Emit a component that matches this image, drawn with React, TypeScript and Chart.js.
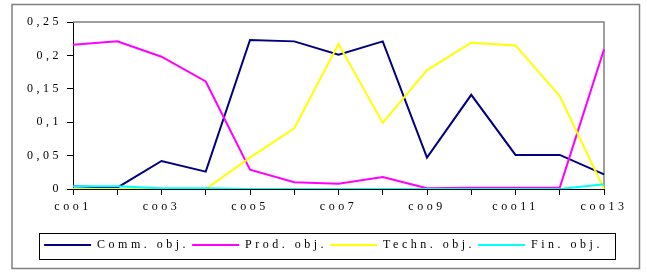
import { useEffect, useRef } from "react";
import { Chart, registerables } from "chart.js";

Chart.register(...registerables);

const categories = [
  "coo1", "coo2", "coo3", "coo4", "coo5", "coo6", "coo7",
  "coo8", "coo9", "coo10", "coo11", "coo12", "coo13",
];
const commObj = [0.004, 0.002, 0.042, 0.026, 0.223, 0.221, 0.201, 0.221, 0.047, 0.141, 0.051, 0.051, 0.022];
const prodObj = [0.216, 0.221, 0.198, 0.161, 0.029, 0.010, 0.008, 0.018, 0.001, 0.002, 0.002, 0.002, 0.209];
const technObj = [0.0, 0.0, 0.0, 0.0, 0.047, 0.091, 0.217, 0.099, 0.178, 0.219, 0.215, 0.139, 0.0];
const finObj = [0.004, 0.004, 0.001, 0.001, 0.0, 0.0, 0.0, 0.0, 0.0, 0.0, 0.0, 0.0, 0.007];
const seriesNames = ["Comm. obj.", "Prod. obj.", "Techn. obj.", "Fin. obj."];
const seriesColors = ["#000080", "#FF00FF", "#FFFF00", "#00FFFF"];
const yMin = 0;
const yMax = 0.25;
const yStep = 0.05;

const FONT = { family: "'Liberation Serif', 'Times New Roman', serif", size: 12 };
const SPACING = "3.5px";

const letterSpacingPlugin = {
  id: "letterSpacing",
  beforeInit(chart: any) { chart.ctx.letterSpacing = SPACING; },
  beforeUpdate(chart: any) { chart.ctx.letterSpacing = SPACING; },
  beforeLayout(chart: any) { chart.ctx.letterSpacing = SPACING; },
  beforeDraw(chart: any) { chart.ctx.letterSpacing = SPACING; },
};

const framePlugin = {
  id: "frames",
  beforeDatasetsDraw(chart: any) {
    const { ctx, chartArea } = chart;
    ctx.save();
    ctx.strokeStyle = "#808080";
    ctx.lineWidth = 1.5;
    ctx.beginPath();
    ctx.moveTo(chartArea.left, chartArea.top);
    ctx.lineTo(chartArea.right, chartArea.top);
    ctx.lineTo(chartArea.right, chartArea.bottom);
    ctx.stroke();
    ctx.restore();
  },
  afterDraw(chart: any) {
    const { ctx, width, height, legend } = chart;
    ctx.save();
    ctx.strokeStyle = "#808080";
    ctx.lineWidth = 1.5;
    ctx.strokeRect(12, 4.5, width - 19.5, height - 9);
    if (legend && legend.legendHitBoxes && legend.legendHitBoxes.length) {
      const hb = legend.legendHitBoxes;
      const first = hb[0];
      const last = hb[hb.length - 1];
      const l = Math.round(first.left - 5) + 0.5;
      const r = Math.round(last.left + last.width + 12) + 0.5;
      const t = Math.round(legend.top - 3.5) + 0.5;
      const b = Math.round(legend.top + 23) + 0.5;
      ctx.strokeStyle = "#000";
      ctx.lineWidth = 1;
      ctx.strokeRect(l, t, r - l, b - t);
    }
    ctx.restore();
  },
};

export default function App() {
  const ref = useRef<HTMLCanvasElement | null>(null);
  useEffect(() => {
    if (!ref.current) return;
    const data = [commObj, prodObj, technObj, finObj];
    const chart = new Chart(ref.current, {
      type: "line",
      data: {
        labels: categories,
        datasets: data.map((d, i) => ({
          label: seriesNames[i],
          data: d,
          borderColor: seriesColors[i],
          backgroundColor: seriesColors[i],
          borderWidth: 2,
          pointRadius: 0,
          tension: 0,
          fill: false,
          order: 4 - i,
        })),
      },
      options: {
        responsive: false,
        animation: false,
        layout: { padding: { left: 0, top: 22, right: 0, bottom: 12 } },
        plugins: {
          tooltip: { enabled: false },
          legend: {
            position: "bottom",
            labels: {
              usePointStyle: true,
              pointStyle: "line",
              pointStyleWidth: 47,
              padding: 3,
              color: "#000",
              font: FONT,
              sort: (a: any, b: any) => a.datasetIndex - b.datasetIndex,
            },
          },
        },
        scales: {
          x: {
            type: "category",
            offset: false,
            grid: { display: true, drawOnChartArea: false, drawTicks: true, tickLength: 6, color: "#000", lineWidth: 1 },
            border: { display: true, color: "#000", width: 1 },
            ticks: {
              autoSkip: false,
              maxRotation: 0,
              color: "#000",
              font: FONT,
              padding: 5,
              callback: (_v: any, i: number) => (i % 2 === 0 ? categories[i] : ""),
            },
            afterFit: (s: any) => { s.height = 47; },
          },
          y: {
            min: yMin,
            max: yMax,
            grid: { display: true, drawOnChartArea: false, drawTicks: true, tickLength: 6, color: "#000", lineWidth: 1 },
            border: { display: true, color: "#000", width: 1 },
            ticks: {
              stepSize: yStep,
              color: "#000",
              font: FONT,
              padding: 5,
              callback: (v: any) => String(Math.round(Number(v) * 100) / 100).replace(".", ","),
            },
            afterFit: (s: any) => { s.width = 73; },
          },
          yRight: {
            position: "right",
            min: yMin,
            max: yMax,
            display: true,
            grid: { display: false, drawTicks: false },
            border: { display: false },
            ticks: { display: false },
            afterFit: (s: any) => { s.width = 43; },
          },
        },
      },
      plugins: [letterSpacingPlugin, framePlugin],
    });
    return () => chart.destroy();
  }, []);
  return (
    <div style={{ position: "absolute", left: 0, top: 0, width: 647, height: 273, background: "#fff" }}>
      <canvas ref={ref} width={647} height={273} style={{ display: "block" }} />
    </div>
  );
}
